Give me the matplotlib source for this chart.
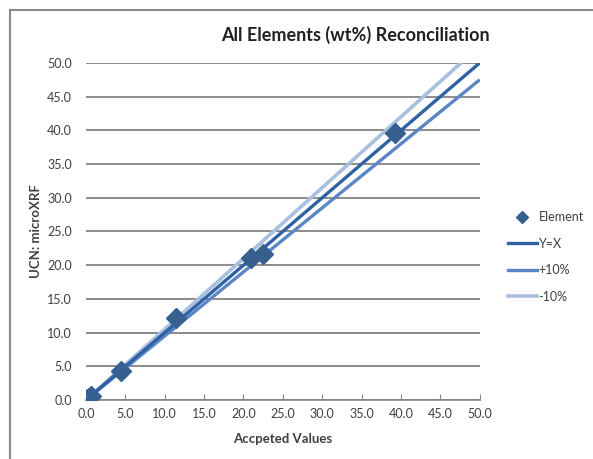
import matplotlib
matplotlib.use("Agg")
import matplotlib.pyplot as plt
from matplotlib.lines import Line2D

plt.rcParams['font.family'] = ['Lato', 'DejaVu Sans']

# measured points (accepted vs microXRF)
accepted = [0.1, 0.4, 0.6, 4.5, 11.4, 21.0, 22.5, 39.2]
measured = [0.1, 0.3, 0.6, 4.3, 12.1, 21.1, 21.7, 39.6]

# reference lines
line_x = [0.0, 50.0]
yx_y = [0.0, 50.0]
plus_y = [0.0, 47.5]
minus_y = [0.0, 52.5]

xticks = [0, 5, 10, 15, 20, 25, 30, 35, 40, 45, 50]
yticks = [0, 5, 10, 15, 20, 25, 30, 35, 40, 45, 50]

c_yx = '#2f62a3'
c_plus = '#5b86c5'
c_minus = '#a9bfdf'
c_mark = '#35608f'
c_text = '#404040'

fig = plt.figure(figsize=(5.93, 4.59), dpi=100)
ax = fig.add_axes([0.145, 0.1285, 0.664, 0.7345])

ax.plot(line_x, minus_y, color=c_minus, lw=2.6, solid_capstyle='butt', zorder=2)
ax.plot(line_x, plus_y, color=c_plus, lw=2.4, solid_capstyle='butt', zorder=2)
ax.plot(line_x, yx_y, color=c_yx, lw=2.4, solid_capstyle='butt', zorder=3)
ax.plot(accepted, measured, 'D', color=c_mark, ms=10, mec=c_mark, zorder=4)

ax.set_xlim(0, 50)
ax.set_ylim(0, 50)
ax.set_xticks(xticks)
ax.set_yticks(yticks)
ax.set_xticklabels(['%.1f' % v for v in xticks])
ax.set_yticklabels(['%.1f' % v for v in yticks])
ax.tick_params(axis='x', colors='#868686', labelcolor=c_text, labelsize=9,
               length=4, direction='in', pad=6)
ax.tick_params(axis='y', length=0, labelcolor=c_text, labelsize=9, pad=10)

ax.grid(axis='y', color='#8c8c8c', lw=1.4)
ax.set_axisbelow(True)
for s in ['left', 'right', 'top']:
    ax.spines[s].set_visible(False)
ax.spines['bottom'].set_color('#868686')
ax.spines['bottom'].set_linewidth(1.2)

ax.set_xlabel('Accpeted Values', fontsize=9.5, fontweight='bold', color=c_text, labelpad=9)
ax.set_ylabel('UCN: microXRF', fontsize=9.5, fontweight='bold', color=c_text, labelpad=4)

fig.text(0.6, 1 - 35 / 459, 'All Elements (wt%) Reconciliation', ha='center', va='center',
         fontsize=13, fontweight='bold', color='#202020')

handles = [
    Line2D([], [], marker='D', ls='none', color=c_mark, ms=6),
    Line2D([], [], color=c_yx, lw=2.4),
    Line2D([], [], color=c_plus, lw=2.4),
    Line2D([], [], color=c_minus, lw=2.6),
]
leg = fig.legend(handles, ['Element', 'Y=X', '+10%', '-10%'],
                 loc='center left', bbox_to_anchor=(0.848, 0.44), frameon=False,
                 fontsize=9, labelspacing=1.15, handlelength=2.3, handletextpad=0.15,
                 labelcolor=c_text, borderaxespad=0)

# chart area border (partly visible)
fig.add_artist(Line2D([10 / 593, 10 / 593], [0, 1 - 10 / 459], color='#8a8a8a', lw=1.5,
                      transform=fig.transFigure))
fig.add_artist(Line2D([10 / 593, 1], [1 - 10 / 459, 1 - 10 / 459], color='#8a8a8a', lw=1.5,
                      transform=fig.transFigure))

fig.savefig('out.png', dpi=100)
